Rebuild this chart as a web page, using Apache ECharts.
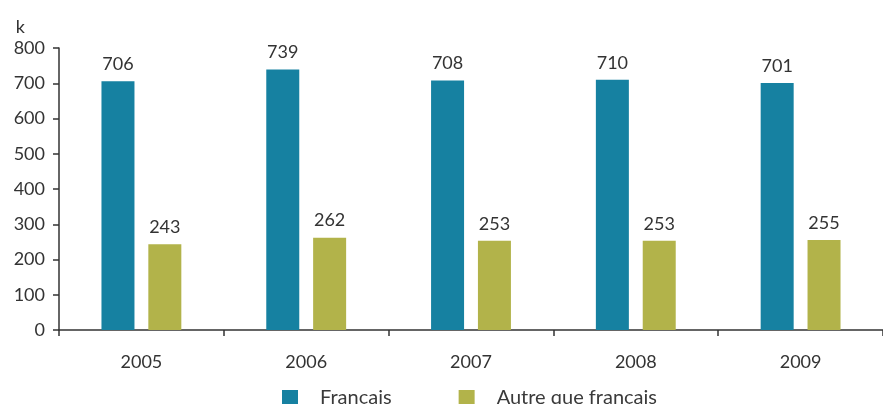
<!DOCTYPE html>
<html>
<head>
<meta charset="utf-8">
<script src="https://cdn.jsdelivr.net/npm/echarts@6/dist/echarts.min.js"></script>
<style>
  html, body { margin: 0; padding: 0; background: #fff; }
  #main { width: 883px; height: 404px; }
</style>
</head>
<body>
<div id="main"></div>
<script>
var years = ['2005', '2006', '2007', '2008', '2009'];
var francais = [706, 739, 708, 710, 701];
var autre = [243, 262, 253, 253, 255];
var seriesNames = ['Français', 'Autre que français'];
var yTicks = [0, 100, 200, 300, 400, 500, 600, 700, 800];

var font = 'Lato, "Open Sans", sans-serif';
var myChart = echarts.init(document.getElementById('main'));

var option = {
    animation: false,
    textStyle: { fontFamily: font },
    grid: { left: 59, top: 48, width: 831, height: 282, containLabel: false },
    legend: {
        bottom: -9,
        left: 277,
        itemWidth: 16,
        itemHeight: 16,
        itemGap: 67,
        icon: 'rect',
        textStyle: { fontSize: 20, color: '#3a3a3a', fontFamily: font, padding: [0, 0, 0, 17] },
        data: seriesNames
    },
    xAxis: {
        type: 'category',
        data: years,
        axisLine: { lineStyle: { color: '#333', width: 1.5 } },
        axisTick: { show: true, length: 6, lineStyle: { color: '#333', width: 1.5 } },
        axisLabel: { fontSize: 18, color: '#333', margin: 23, fontFamily: font }
    },
    yAxis: {
        type: 'value',
        min: yTicks[0],
        max: yTicks[yTicks.length - 1],
        interval: 100,
        name: 'k',
        nameLocation: 'end',
        nameGap: 12,
        nameTextStyle: { fontSize: 18, color: '#333', align: 'right', padding: [0, 34, 0, 0], fontFamily: font },
        axisLine: { show: true, lineStyle: { color: '#333', width: 1.5 } },
        axisTick: { show: true, length: 6, lineStyle: { color: '#333', width: 1.5 } },
        axisLabel: { fontSize: 18, color: '#333', margin: 14, fontFamily: font },
        splitLine: { show: false }
    },
    series: [
        {
            name: seriesNames[0],
            type: 'bar',
            data: francais,
            barWidth: 33,
            barGap: '42%',
            itemStyle: { color: '#1681a1' },
            label: { show: true, position: 'top', distance: 8, fontSize: 18, color: '#333', fontFamily: font }
        },
        {
            name: seriesNames[1],
            type: 'bar',
            data: autre,
            barWidth: 33,
            itemStyle: { color: '#b2b34a' },
            label: { show: true, position: 'top', distance: 8, fontSize: 18, color: '#333', fontFamily: font }
        }
    ]
};
myChart.setOption(option);
</script>
</body>
</html>
